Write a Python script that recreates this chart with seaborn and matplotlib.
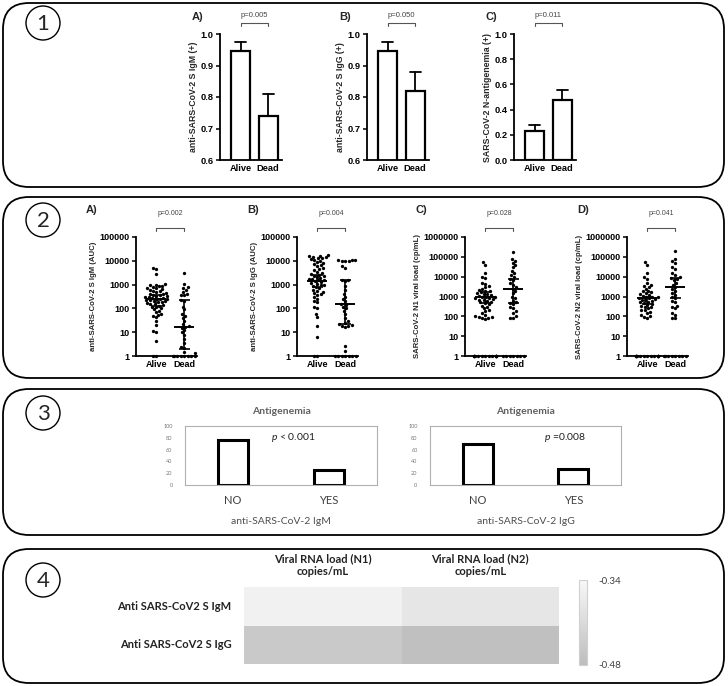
import warnings
warnings.filterwarnings("ignore")
import numpy as np
import pandas as pd
import matplotlib
matplotlib.use("Agg")
import matplotlib.pyplot as plt
import seaborn as sns
from matplotlib.patches import FancyBboxPatch, Circle
from matplotlib.colors import LinearSegmentedColormap
from matplotlib.ticker import NullLocator
from matplotlib.transforms import blended_transform_factory

# ---------------- data ----------------
groups = ["Alive", "Dead"]
# Panel 1: proportion positive (bar) with upper error
p1_igm = [0.945, 0.74]
p1_igm_err = [0.03, 0.07]
p1_igg = [0.945, 0.82]
p1_igg_err = [0.03, 0.06]
p1_ag = [0.23, 0.48]
p1_ag_err = [0.05, 0.075]
p1_pvals = ["p=0.005", "p=0.050", "p=0.011"]

# Panel 2: individual values
igm_alive = [4800, 4500, 2700, 1100, 1000, 950, 900, 850, 800, 750, 700, 650, 600, 560,
             520, 480, 450, 420, 400, 380, 360, 340, 320, 300, 290, 280, 270, 260, 250,
             240, 230, 220, 210, 200, 190, 180, 170, 160, 150, 140, 130, 120, 110, 100,
             90, 80, 70, 60, 55, 48, 42, 30, 20, 11, 10, 4.2, 1, 1]
igm_dead = [3000, 1100, 800, 700, 600, 480, 420, 380, 350, 220, 200, 120, 90, 60, 50, 40,
            30, 22, 18, 17, 15, 12, 10, 8, 5, 3.5, 2.5, 2.2, 1.5, 1.3, 1, 1, 1, 1, 1, 1, 1, 1]
igg_alive = [17000, 16000, 15500, 15000, 14000, 13000, 12500, 12000, 11000, 10000, 9000,
             8000, 7000, 6500, 6000, 5000, 4500, 4000, 3500, 3000, 2800, 2600, 2400, 2200,
             2000, 1900, 1800, 1700, 1600, 1500, 1400, 1300, 1200, 1100, 1000, 950, 900,
             800, 700, 600, 550, 500, 450, 400, 380, 300, 250, 200, 180, 120, 100, 60, 45,
             19, 6, 1, 1]
igg_dead = [11000, 11000, 10500, 10000, 10000, 9500, 6000, 5000, 1600, 1500, 1400, 900, 600,
            400, 300, 250, 200, 150, 140, 120, 100, 80, 60, 40, 30, 25, 22, 20, 19, 18, 17,
            2.6, 1.6, 1, 1, 1, 1, 1, 1, 1]
n1_alive = [52000, 38000, 15000, 10000, 9000, 5000, 4500, 3500, 3000, 2500, 2200, 2000, 1800,
            1600, 1500, 1400, 1300, 1200, 1100, 1000, 950, 900, 850, 800, 750, 700, 650, 600,
            550, 500, 450, 400, 350, 300, 250, 200, 180, 150, 120, 100, 95, 90, 85, 80, 75,
            1, 1, 1, 1, 1, 1, 1, 1, 1, 1, 1, 1, 1, 1, 1, 1]
n1_dead = [180000, 80000, 65000, 50000, 40000, 30000, 20000, 15000, 12000, 10000, 8000, 7000,
           5000, 4000, 3000, 2500, 2000, 1500, 1000, 800, 600, 500, 450, 400, 300, 250, 180,
           150, 100, 85, 80, 1, 1, 1, 1, 1, 1, 1]
n2_alive = [55000, 40000, 15000, 10000, 8000, 5000, 4000, 3500, 3000, 2500, 2000, 1800, 1600,
            1500, 1300, 1200, 1100, 1000, 950, 900, 850, 800, 750, 700, 650, 600, 550, 500,
            450, 400, 380, 350, 300, 280, 250, 220, 200, 170, 150, 120, 100, 90, 85,
            1, 1, 1, 1, 1, 1, 1, 1, 1, 1, 1, 1, 1, 1, 1, 1]
n2_dead = [190000, 75000, 60000, 50000, 30000, 25000, 15000, 12000, 10000, 9000, 8000, 7000,
           5000, 4000, 3000, 2500, 2000, 1500, 1200, 1000, 800, 600, 500, 350, 300, 250, 150,
           120, 85, 80, 1, 1, 1, 1, 1, 1, 1, 1]
# median, lower, upper
igm_summary = [(250, 130, 380), (17, 2.0, 220)]
igg_summary = [(1400, 800, 2500), (150, 23, 1600)]
n1_summary = [(1000, 450, 1700), (2400, 480, 8000)]
n2_summary = [(800, 400, 1000), (3000, 800, 9000)]
p2_pvals = ["p=0.002", "p=0.004", "p=0.028", "p=0.041"]

# Panel 3
p3_cats = ["NO", "YES"]
p3_igm = [77, 25]
p3_igg = [70, 27]

# Panel 4
hm_rows = ["Anti SARS-CoV2 S IgM", "Anti SARS-CoV2 S IgG"]
hm_cols = ["Viral RNA load (N1)\ncopies/mL", "Viral RNA load (N2)\ncopies/mL"]
hm_vals = [[-0.357, -0.382], [-0.45, -0.473]]

# ---------------- figure ----------------
W, H = 728, 686
sns.set_theme(style="ticks")
plt.rcParams['font.family'] = ['Liberation Sans', 'DejaVu Sans']
plt.rcParams['mathtext.fontset'] = 'custom'
plt.rcParams['mathtext.it'] = 'Lato:italic'
plt.rcParams['axes.edgecolor'] = 'black'
plt.rcParams['xtick.color'] = 'black'
plt.rcParams['ytick.color'] = 'black'

fig = plt.figure(figsize=(W / 100, H / 100), dpi=100)
bg = fig.add_axes([0, 0, 1, 1])
bg.set_xlim(0, W)
bg.set_ylim(H, 0)
bg.axis('off')


def pax(l, t, r, b):
    return fig.add_axes([l / W, 1 - b / H, (r - l) / W, (b - t) / H])


# panel frames + circled numbers
for (t, b), num, cy in zip([(3, 187), (197, 378), (389, 535), (549, 683)],
                           ["1", "2", "3", "4"], [23, 220, 413, 580]):
    bg.add_patch(FancyBboxPatch((3, t), 721, b - t,
                                boxstyle="round,pad=0,rounding_size=26",
                                fc="white", ec="black", lw=1.3))
    bg.add_patch(Circle((43, cy), 17, fill=False, ec="black", lw=1.0))
    bg.text(43, cy + 1, num, ha="center", va="center", fontsize=16,
            family=["Lato", "DejaVu Sans"])


def style_prism(ax, fs=6.5):
    for s in ["top", "right"]:
        ax.spines[s].set_visible(False)
    for s in ["left", "bottom"]:
        ax.spines[s].set_linewidth(1.3)
        ax.spines[s].set_color("black")
    ax.tick_params(axis="y", length=3, width=1.1, labelsize=fs, pad=1.5)
    ax.tick_params(axis="x", length=0, labelsize=fs, pad=3)
    for lab in ax.get_xticklabels() + ax.get_yticklabels():
        lab.set_fontweight("bold")
    ax.set_xlabel("")


def bracket(ax, ybr, ytxt, text, fs):
    tr = blended_transform_factory(ax.transData, ax.transAxes)
    ax.plot([0, 0, 1, 1], [ybr - 0.025, ybr, ybr, ybr - 0.025], color="#555555",
            lw=0.8, transform=tr, clip_on=False)
    ax.text(0.5, ytxt, text, transform=tr, ha="center", va="center",
            fontsize=fs, color="#444444")


# ---------- Panel 1 ----------
p1_specs = [
    (220, "A)", p1_igm, p1_igm_err, "anti-SARS-CoV-2 S IgM (+)", (0.6, 1.0), np.arange(0.6, 1.01, 0.1)),
    (367, "B)", p1_igg, p1_igg_err, "anti-SARS-CoV-2 S IgG (+)", (0.6, 1.0), np.arange(0.6, 1.01, 0.1)),
    (514, "C)", p1_ag, p1_ag_err, "SARS-CoV-2 N-antigenemia (+)", (0.0, 1.0), np.arange(0.0, 1.01, 0.2)),
]
for (l, lab, vals, errs, ylab, ylim, yt), pv in zip(p1_specs, p1_pvals):
    ax = pax(l, 34, l + 62, 160)
    df = pd.DataFrame({"group": groups, "value": vals})
    sns.barplot(data=df, x="group", y="value", ax=ax, color="white", saturation=1,
                edgecolor="black", linewidth=1.6, width=0.68, errorbar=None)
    for i, (v, e) in enumerate(zip(vals, errs)):
        ax.plot([i, i], [v, v + e], color="black", lw=1.3, zorder=0)
        ax.plot([i - 0.2, i + 0.2], [v + e, v + e], color="black", lw=1.3)
    ax.set_ylim(*ylim)
    ax.set_yticks(yt)
    ax.set_yticklabels([f"{y:.1f}" for y in yt])
    ax.set_xlim(-0.75, 1.5)
    ax.set_ylabel(ylab, fontsize=6.3, fontweight="bold", labelpad=2)
    style_prism(ax, 6.7)
    bracket(ax, 1.09, 1.15, pv, 5.5)
    bg.text(l - 28, 17, lab, fontsize=8, fontweight="bold", va="center")

# ---------- Panel 2 ----------
p2_specs = [
    (136, "A)", igm_alive, igm_dead, igm_summary, "anti-SARS-CoV-2 S IgM (AUC)", 5),
    (297, "B)", igg_alive, igg_dead, igg_summary, "anti-SARS-CoV-2 S IgG (AUC)", 5),
    (465, "C)", n1_alive, n1_dead, n1_summary, "SARS-CoV-2 N1 viral load (cp/mL)", 6),
    (627, "D)", n2_alive, n2_dead, n2_summary, "SARS-CoV-2 N2 viral load (cp/mL)", 6),
]
for (l, lab, alive, dead, summ, ylab, top), pv in zip(p2_specs, p2_pvals):
    ax = pax(l, 237, l + 61, 356)
    df = pd.DataFrame({"group": ["Alive"] * len(alive) + ["Dead"] * len(dead),
                       "value": alive + dead})
    sns.swarmplot(data=df, x="group", y="value", ax=ax, color="black", size=2.4,
                  linewidth=0, log_scale=True, warn_thresh=1)
    for c in ax.collections:
        c.set_clip_on(False)
    for i, (med, lo, hi) in enumerate(summ):
        ax.hlines(med, i - 0.36, i + 0.36, color="black", lw=1.4, zorder=5)
        ax.vlines(i, lo, hi, color="black", lw=1.2, zorder=5)
        ax.hlines([lo, hi], i - 0.2, i + 0.2, color="black", lw=1.2, zorder=5)
    ax.set_ylim(1, 10 ** top)
    ax.set_xlim(-0.72, 1.46)
    ticks = [10 ** k for k in range(top + 1)]
    ax.set_yticks(ticks)
    ax.set_yticklabels([str(t) for t in ticks])
    ax.yaxis.set_minor_locator(NullLocator())
    ax.set_ylabel(ylab, fontsize=5.6, fontweight="bold", labelpad=2)
    style_prism(ax, 6.5)
    bracket(ax, 1.075, 1.2, pv, 5.0)
    bg.text(l - 50, 210, lab, fontsize=8, fontweight="bold", va="center")

# ---------- Panel 3 ----------
p3_specs = [(185, 377, p3_igm, "anti-SARS-CoV-2 IgM", r"$\mathit{p}$ < 0.001", 0.4),
            (430, 621, p3_igg, "anti-SARS-CoV-2 IgG", r"$\mathit{p}$ =0.008", 0.69)]
for l, r, vals, sub, ptxt, px in p3_specs:
    ax = pax(l, 426, r, 485)
    df = pd.DataFrame({"cat": p3_cats, "pct": vals})
    sns.barplot(data=df, x="cat", y="pct", ax=ax, color="white", saturation=1,
                edgecolor="black", linewidth=2.2, width=0.31, errorbar=None)
    ax.set_xlim(-0.5, 1.5)
    ax.set_ylim(0, 100)
    ax.set_yticks(range(0, 101, 20))
    for s in ax.spines.values():
        s.set_visible(True)
        s.set_color("#b0b0b0")
        s.set_linewidth(0.8)
    ax.tick_params(axis="y", length=0, labelsize=4, labelcolor="#777777", pad=9)
    ax.tick_params(axis="x", length=0, labelsize=8, labelcolor="#404040", pad=7)
    for t in ax.get_xticklabels() + ax.get_yticklabels():
        t.set_family(["Lato", "DejaVu Sans"])
    ax.set_ylabel("")
    ax.set_xlabel(sub, fontsize=7.5, color="#505050", labelpad=8,
                  family=["Lato", "DejaVu Sans"])
    ax.set_title("Antigenemia", fontsize=7.5, color="#606060", pad=9,
                 fontweight="bold", family=["Lato", "DejaVu Sans"])
    ax.text(px, 80, ptxt, fontsize=7.5, color="#202020", va="center",
            family=["Lato", "DejaVu Sans"])

# ---------- Panel 4 ----------
hm = pd.DataFrame(hm_vals, index=hm_rows, columns=hm_cols)
cmap = LinearSegmentedColormap.from_list("greys_soft", ["#bdbdbd", "#f8f8f8"])
ax = pax(244, 587, 559, 664)
cax = pax(579, 580, 587, 665)
sns.heatmap(hm, ax=ax, cbar_ax=cax, cmap=cmap, vmin=-0.48, vmax=-0.34,
            cbar_kws={"ticks": [-0.48, -0.34]})
ax.xaxis.tick_top()
ax.tick_params(axis="both", length=0)
ax.tick_params(axis="x", pad=7)
ax.tick_params(axis="y", pad=9)
ax.set_xticklabels(hm_cols, fontsize=8, fontweight="bold", rotation=0,
                   family=["Lato", "DejaVu Sans"], color="#222222")
ax.set_yticklabels(hm_rows, fontsize=8, fontweight="bold", rotation=0,
                   family=["Lato", "DejaVu Sans"], color="#222222")
cax.tick_params(length=0, labelsize=7, labelcolor="#404040", pad=8)
cax.set_yticklabels(["-0.48", "-0.34"], family=["Lato", "DejaVu Sans"])
cb = ax.collections[0].colorbar
cb.outline.set_edgecolor("#d0d0d0")
cb.outline.set_linewidth(0.8)

fig.savefig("out.png", dpi=100)
